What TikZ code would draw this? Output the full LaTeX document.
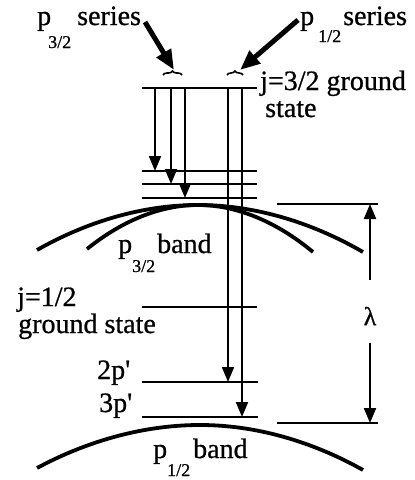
\documentclass[tikz,border=0pt]{standalone}
\usepackage{fontspec}
\setmainfont{Liberation Serif}[FakeBold=0.8,AutoFakeBold=0.8]
\newfontfamily\heavyserif{Liberation Serif}[FakeBold=0.8]
\usetikzlibrary{arrows.meta,decorations.pathreplacing}
\begin{document}
\begin{tikzpicture}[x=1pt,y=-1pt,
  lvl/.style={line width=2pt},
  trans/.style={line width=2pt,-{Triangle[width=12pt,length=15pt]}},
  bandline/.style={line width=3.8pt},
  bigarrow/.style={line width=5pt,-{Triangle[width=16pt,length=20pt]}},
  lbl/.style={inner sep=0pt,anchor=base west,font=\heavyserif\fontsize{28}{30}\selectfont},
  sublbl/.style={inner sep=0pt,anchor=base west,font=\heavyserif\fontsize{18}{20}\selectfont},
  bracestyle/.style={decorate,decoration={brace,amplitude=4pt},line width=1.6pt},
]
\useasboundingbox (0,0) rectangle (415,480);
% level end points
\coordinate (L0a) at (142,88);  \coordinate (L0b) at (257,88);
\coordinate (L1a) at (142,171); \coordinate (L1b) at (257,171);
\coordinate (L2a) at (142,184); \coordinate (L2b) at (257,184);
\coordinate (L3a) at (142,198); \coordinate (L3b) at (257,198);
\coordinate (G12a) at (142,307); \coordinate (G12b) at (257,307);
\coordinate (P2a) at (142,382); \coordinate (P2b) at (258,382);
\coordinate (P3a) at (142,417); \coordinate (P3b) at (258,417);
\foreach \a/\b in {L0a/L0b,L1a/L1b,L2a/L2b,L3a/L3b,G12a/G12b,P2a/P2b,P3a/P3b}
  \draw[lvl] (\a) -- (\b);
% transition columns
\coordinate (c1) at (155,0);
\coordinate (c2) at (171,0);
\coordinate (c3) at (185,0);
\coordinate (c4) at (228,0);
\coordinate (c5) at (242,0);
\draw[trans] (c1 |- L0a) -- (c1 |- L1a);
\draw[trans] (c2 |- L0a) -- (c2 |- L2a);
\draw[trans] (c3 |- L0a) -- (c3 |- L3a);
\draw[trans] (c4 |- L0a) -- (c4 |- P2a);
\draw[trans] (c5 |- L0a) -- (c5 |- P3a);
% bands
\draw[bandline] (37,250) parabola bend (198,205) (363,252);
\draw[bandline] (87,249) parabola bend (198,205) (313,252);
\draw[bandline] (37,468) parabola bend (200,425) (363,470);
% lambda
\coordinate (Ta) at (277,204); \coordinate (Tb) at (378,204);
\coordinate (Ba) at (277,423); \coordinate (Bb) at (378,423);
\draw[lvl] (Ta) -- (Tb);
\draw[lvl] (Ba) -- (Bb);
\node[inner sep=0pt,font=\heavyserif\fontsize{26}{28}\selectfont] (lam) at (370,316) {λ};
\coordinate (lx) at (370,0);
\draw[trans] (lx |- 0,280) -- (lx |- Ta);
\draw[trans] (lx |- 0,343) -- (lx |- Ba);
% braces
\coordinate (br1a) at (163,75); \coordinate (br1b) at (182,75);
\coordinate (br2a) at (227,75); \coordinate (br2b) at (243,75);
\draw[bracestyle] (br1a) -- (br1b);
\draw[bracestyle] (br2a) -- (br2b);
% labels
\node[lbl] (p1) at (37,25) {p};
\node[sublbl] (p1s) at (48,48) {3/2};
\node[lbl] (ser1) at (77,25) {series};
\node[lbl] (p2) at (300,25) {p};
\node[sublbl] (p2s) at (318,42) {1/2};
\node[lbl] (ser2) at (343,25) {series};
\coordinate (a1s) at (145,22); \coordinate (a1e) at (174,70);
\coordinate (a2s) at (298,20); \coordinate (a2e) at (240,70);
\draw[bigarrow] (a1s) -- (a1e);
\draw[bigarrow] (a2s) -- (a2e);
\node[lbl] (g32) at (260,90) {j=3/2 ground};
\node[lbl] (g32b) at (265,117) {state};
\node[lbl] (b32p) at (118,253) {p};
\node[sublbl] (b32s) at (132,272) {3/2};
\node[lbl] (b32b) at (157,253) {band};
\node[lbl] (g12) at (17,306) {j=1/2};
\node[lbl] (g12b) at (18,333) {ground state};
\node[lbl] (lp2) at (97,379) {2p\textquotesingle};
\node[lbl] (lp3) at (99,412) {3p\textquotesingle};
\node[lbl] (b12p) at (153,458) {p};
\node[sublbl] (b12s) at (167,476) {1/2};
\node[lbl] (b12b) at (193,458) {band};
\end{tikzpicture}
\end{document}
